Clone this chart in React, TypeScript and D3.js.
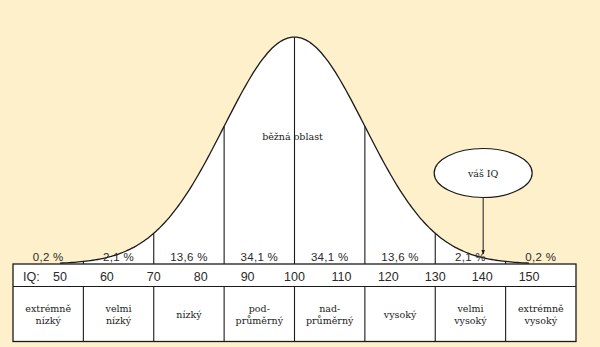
import React from "react";
import * as d3 from "d3";

// IQ distribution (mean 100, SD 15) split into classification bands
const MEAN = 100;
const SD = 15;
const bandEdges = [55, 70, 85, 100, 115, 130, 145];
const bandShares = ["0,2 %", "2,1 %", "13,6 %", "34,1 %", "34,1 %", "13,6 %", "2,1 %", "0,2 %"];
const bandNames = [
  ["extrémně", "nízký"],
  ["velmi", "nízký"],
  ["nízký"],
  ["pod-", "průměrný"],
  ["nad-", "průměrný"],
  ["vysoký"],
  ["velmi", "vysoký"],
  ["extrémně", "vysoký"],
];
const iqTicks = [50, 60, 70, 80, 90, 100, 110, 120, 130, 140, 150];
const yourIQ = 140;
const commonLabel = "běžná oblast";

const W = 600;
const H = 347;
const BG = "#FDF0CA";
const INK = "#1a1a1a";
const SANS = "'Liberation Sans', Arial, sans-serif";
const SERIF = "'DejaVu Serif', 'Liberation Serif', serif";

export default function App() {
  const x = d3.scaleLinear().domain([40, 160]).range([13, 576]);
  const y = d3.scaleLinear().domain([0, 1]).range([264, 37]);
  const density = (iq: number) => Math.exp(-0.5 * ((iq - MEAN) / SD) ** 2);

  const curvePts = d3.range(50, 150.01, 0.5);
  const area = d3
    .area<number>()
    .x((d) => x(d))
    .y0(y(0))
    .y1((d) => y(density(d)))
    .curve(d3.curveBasis);
  const line = d3
    .line<number>()
    .x((d) => x(d))
    .y((d) => y(density(d)))
    .curve(d3.curveBasis);

  const tableTop = 264;
  const rowSplit = 286.5;
  const tableBottom = 341.5;
  const [d0, d1] = x.domain();
  const allEdges = [d0, ...bandEdges, d1];
  const centers = d3.range(allEdges.length - 1).map((i) => (allEdges[i] + allEdges[i + 1]) / 2);
  const rowMid = (rowSplit + tableBottom) / 2;

  const ax = x(yourIQ) + 1;

  return (
    <svg
      width={W}
      height={H}
      style={{ position: "absolute", left: 0, top: 0, display: "block" }}
    >
      <defs>
        <marker id="tip" viewBox="0 0 10 10" refX="9" refY="5" markerWidth="5" markerHeight="6" orient="auto">
          <path d="M0,1 L10,5 L0,9 z" fill={INK} />
        </marker>
      </defs>
      <rect width={W} height={H} fill={BG} />

      {/* bell curve */}
      <path d={area(curvePts) ?? ""} fill="#fff" />
      {bandEdges.map((e) => (
        <line key={e} x1={x(e)} x2={x(e)} y1={y(density(e))} y2={y(0)} stroke={INK} strokeWidth={1.1} />
      ))}
      <path d={line(curvePts) ?? ""} fill="none" stroke={INK} strokeWidth={1.3} />

      <text x={x(MEAN) - 2} y={140} textAnchor="middle" fontFamily={SERIF} fontSize={9.5} fill={INK}>
        {commonLabel}
      </text>

      {/* shares per band */}
      {centers.map((c, i) => (
        <text key={i} x={x(c)} y={261} textAnchor="middle" fontFamily={SANS} fontSize={11.5} letterSpacing={0.3} fill="#2a2a2a">
          {bandShares[i]}
        </text>
      ))}

      {/* your IQ callout */}
      <line x1={ax} x2={ax} y1={197.5} y2={254} stroke={INK} strokeWidth={1} markerEnd="url(#tip)" />
      <ellipse cx={ax} cy={173} rx={49} ry={24.5} fill="#fff" stroke={INK} strokeWidth={1.2} />
      <text x={ax} y={176.5} textAnchor="middle" fontFamily={SERIF} fontSize={9.5} fill={INK}>
        váš IQ
      </text>

      {/* table */}
      <rect x={x(d0)} y={tableTop} width={x(d1) - x(d0)} height={tableBottom - tableTop} fill="#fff" stroke={INK} strokeWidth={1.3} />
      <line x1={x(d0)} x2={x(d1)} y1={rowSplit} y2={rowSplit} stroke={INK} strokeWidth={1.2} />
      {bandEdges.map((e) => (
        <line key={e} x1={x(e)} x2={x(e)} y1={rowSplit} y2={tableBottom} stroke={INK} strokeWidth={1.1} />
      ))}
      <text x={23} y={280.5} fontFamily={SANS} fontSize={12.5} fill="#2a2a2a">
        IQ:
      </text>
      {iqTicks.map((t) => (
        <text key={t} x={x(t)} y={280.5} textAnchor="middle" fontFamily={SANS} fontSize={12.5} fill="#2a2a2a">
          {t}
        </text>
      ))}
      {centers.map((c, i) => {
        const lines = bandNames[i];
        return (
          <text key={i} textAnchor="middle" fontFamily={SERIF} fontSize={9.5} fill={INK}>
            {lines.map((s, j) => (
              <tspan key={j} x={x(c)} y={rowMid + (j - (lines.length - 1) / 2) * 12 + 4}>
                {s}
              </tspan>
            ))}
          </text>
        );
      })}
    </svg>
  );
}
